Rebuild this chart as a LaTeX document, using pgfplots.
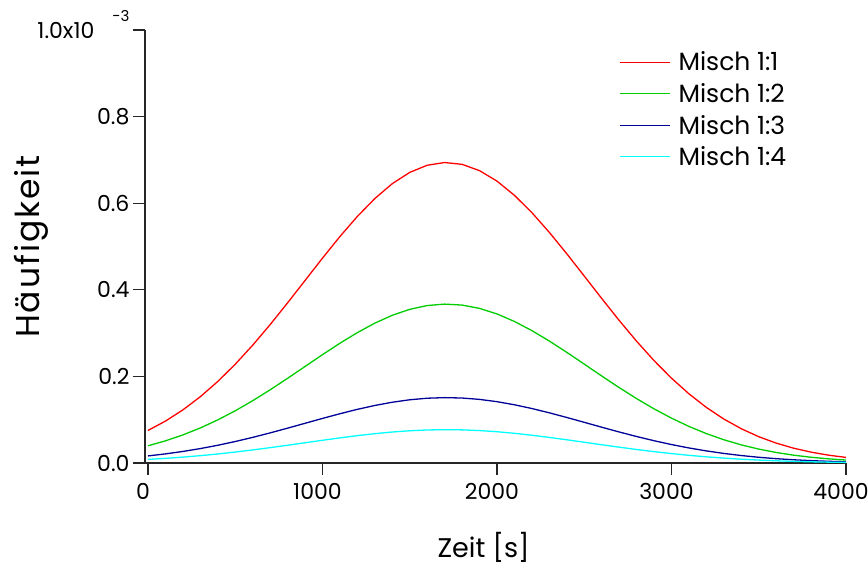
\documentclass[border=0pt]{standalone}
\usepackage{fontspec}
\setmainfont{Poppins}
\usepackage{pgfplots}
\pgfplotsset{compat=1.18}
\definecolor{mred}{RGB}{255,0,0}
\definecolor{mgreen}{RGB}{0,204,0}
\definecolor{mblue}{RGB}{0,0,153}
\definecolor{mcyan}{RGB}{0,255,255}

% Haeufigkeit in units of 1e-3
\pgfplotstableread{
x r g b c
0 0.07516 0.03975 0.01635 0.00834
100 0.09674 0.05116 0.02105 0.01073
200 0.12262 0.06484 0.02668 0.01360
300 0.15310 0.08096 0.03331 0.01699
400 0.18827 0.09956 0.04096 0.02089
500 0.22803 0.12059 0.04961 0.02530
600 0.27201 0.14384 0.05918 0.03018
700 0.31957 0.16900 0.06953 0.03546
800 0.36980 0.19556 0.08046 0.04103
900 0.42145 0.22287 0.09170 0.04676
1000 0.47307 0.25017 0.10293 0.05249
1100 0.52301 0.27658 0.11380 0.05803
1200 0.56949 0.30116 0.12391 0.06319
1300 0.61075 0.32297 0.13289 0.06776
1400 0.64511 0.34114 0.14036 0.07158
1500 0.67112 0.35490 0.14602 0.07446
1600 0.68764 0.36364 0.14962 0.07629
1700 0.69394 0.36697 0.15099 0.07699
1800 0.68974 0.36475 0.15007 0.07653
1900 0.67521 0.35707 0.14691 0.07492
2000 0.65102 0.34427 0.14165 0.07223
2100 0.61822 0.32693 0.13451 0.06859
2200 0.57821 0.30577 0.12581 0.06415
2300 0.53264 0.28167 0.11589 0.05910
2400 0.48325 0.25555 0.10515 0.05362
2500 0.43183 0.22836 0.09396 0.04791
2600 0.38006 0.20098 0.08269 0.04217
2700 0.32944 0.17421 0.07168 0.03655
2800 0.28126 0.14874 0.06120 0.03121
2900 0.23649 0.12506 0.05146 0.02624
3000 0.19585 0.10357 0.04261 0.02173
3100 0.15976 0.08448 0.03476 0.01773
3200 0.12835 0.06787 0.02793 0.01424
3300 0.10155 0.05370 0.02210 0.01127
3400 0.07914 0.04185 0.01722 0.00878
3500 0.06075 0.03212 0.01322 0.00674
3600 0.04592 0.02428 0.00999 0.00510
3700 0.03419 0.01808 0.00744 0.00379
3800 0.02507 0.01326 0.00546 0.00278
3900 0.01811 0.00958 0.00394 0.00201
4000 0.01289 0.00682 0.00280 0.00143
}\mischdata

\begin{document}
\begin{tikzpicture}
\path[use as bounding box] (-145pt,-103pt) rectangle (723pt,463pt);
\begin{axis}[
    scale only axis,
    width=701pt, height=433pt,
    xmin=-17, xmax=4000,
    ymin=0, ymax=1,
    axis x line*=bottom, axis y line*=left,
    axis line style={line width=1.3pt, black!85, -},
    every tick/.style={line width=1.3pt, black!85},
    tick align=outside,
    major tick length=12pt,
    xtick={0,1000,2000,3000,4000},
    xticklabels={0,1000,2000,3000,4000},
    ytick={0,0.2,0.4,0.6,0.8,1},
    yticklabels={0.0,0.2,0.4,0.6,0.8,{1.0x10\hspace{18pt}\smash{\raisebox{17pt}{\fontsize{15}{15}\selectfont -3}}}},
    tick label style={font=\fontsize{22}{25}\selectfont},
    xticklabel style={yshift=-5pt, xshift=-5pt},
    xlabel={Zeit [s]},
    ylabel={\addfontfeature{LetterSpace=6}Häufigkeit},
    label style={font=\fontsize{27}{30}\selectfont},
    xlabel style={at={(axis description cs:0.483,0)}, anchor=center, yshift=-84pt},
    ylabel style={font=\fontsize{33}{36}\selectfont, yshift=-18pt},
    legend style={draw=none, fill=none, at={(0.672,0.959)}, anchor=north west,
        font=\fontsize{25}{28}\selectfont, row sep=7pt,
        nodes={inner xsep=8pt}},
    legend cell align=left,
    legend image code/.code={\draw[#1] plot coordinates {(0pt,0pt) (25pt,0pt) (50pt,0pt)};},
    every axis plot/.append style={line width=1.3pt},
]
\addplot[mred] table[x=x, y=r] {\mischdata};
\addplot[mgreen] table[x=x, y=g] {\mischdata};
\addplot[mblue] table[x=x, y=b] {\mischdata};
\addplot[mcyan] table[x=x, y=c] {\mischdata};
\legend{Misch 1:1, Misch 1:2, Misch 1:3, Misch 1:4}
\end{axis}
\end{tikzpicture}
\end{document}
